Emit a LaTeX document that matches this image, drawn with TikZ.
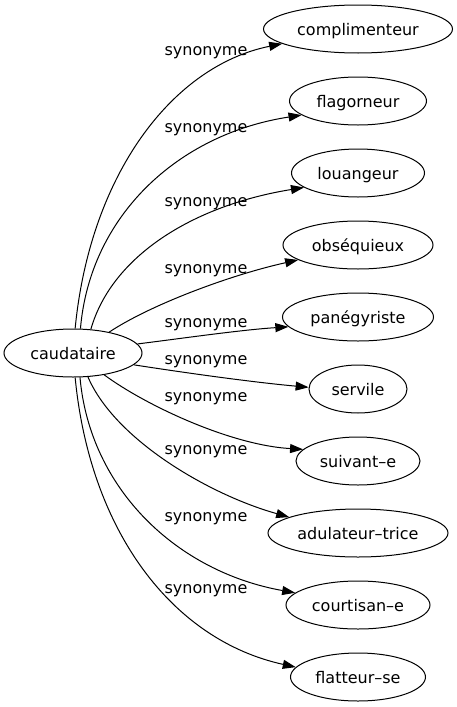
\documentclass[tikz,border=0pt]{standalone}
\usepackage{fontspec}
\setmainfont{DejaVu Sans}
\usetikzlibrary{shapes.geometric,arrows.meta}
\begin{document}
\begin{tikzpicture}[x=1pt,y=-1pt]

\useasboundingbox (0,0) rectangle (456,707);

%%% Styles

\tikzstyle{word}=[ellipse, draw, line width=1pt, inner sep=0pt, minimum height=48pt, text height=15pt, text depth=3pt, font=\fontsize{16}{19}\selectfont]

\tikzstyle{syn}=[anchor=base, inner sep=0pt, font=\fontsize{16}{19}\selectfont]

\tikzstyle{link}=[line width=1pt, -{Triangle[length=13pt,width=9pt]}]


%%% Head word

\node (A) [word, minimum width=138pt] at (73,353) {caudataire};


%%% Synonyms

\node (B) [word, minimum width=189pt] at (358,29)  {complimenteur};
\node (C) [word, minimum width=137pt] at (358,101) {flagorneur};
\node (D) [word, minimum width=133pt] at (358,173) {louangeur};
\node (E) [word, minimum width=150pt] at (358,245) {obséquieux};
\node (F) [word, minimum width=151pt] at (358,317) {panégyriste};
\node (G) [word, minimum width=98pt]  at (358,389) {servile};
\node (H) [word, minimum width=124pt] at (358,461) {suivant–e};
\node (I) [word, minimum width=180pt] at (358,533) {adulateur–trice};
\node (J) [word, minimum width=144pt] at (358,605) {courtisan–e};
\node (K) [word, minimum width=135pt] at (358,677) {flatteur–se};


% Arcs

\draw [link] (A.85)  .. controls (90,175) and (172,66)  .. (B.191);
\draw [link] (A.73)  .. controls (90,216) and (178,134) .. (C.194);
\draw [link] (A.53)  .. controls (112,255) and (195,205) .. (D.195);
\draw [link] (A.30)  .. controls (150,305) and (230,275) .. (E.194);
\draw [link] (A.8)   .. controls (185,338) and (240,330) .. (F.188);
\draw [link] (A.349) .. controls (180,372) and (250,382) .. (G.178);
\draw [link] (A.325) .. controls (145,405) and (230,445) .. (H.168);
\draw [link] (A.302) .. controls (115,440) and (210,495) .. (I.167);
\draw [link] (A.286) .. controls (90,490) and (178,572)  .. (J.169);
\draw [link] (A.275) .. controls (90,531) and (172,640)  .. (K.171);


% Arc labels

\node (L) [syn] at (206,55)  {synonyme};
\node (M) [syn] at (206,132) {synonyme};
\node (N) [syn] at (206,206) {synonyme};
\node (O) [syn] at (206,273) {synonyme};
\node (P) [syn] at (206,327) {synonyme};
\node (Q) [syn] at (206,364) {synonyme};
\node (R) [syn] at (206,401) {synonyme};
\node (S) [syn] at (206,454) {synonyme};
\node (T) [syn] at (206,521) {synonyme};
\node (U) [syn] at (206,593) {synonyme};

\end{tikzpicture}
\end{document}
